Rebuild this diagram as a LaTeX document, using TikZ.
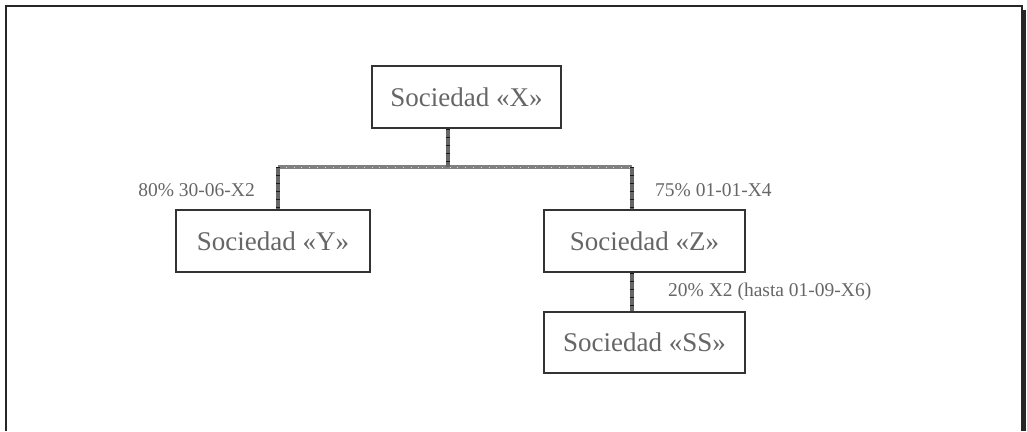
\documentclass[tikz,border=0pt]{standalone}
\usepackage{fontspec}
\setmainfont{Liberation Serif}
\begin{document}
\begin{tikzpicture}[x=1pt,y=-1pt,
  soc/.style={draw=black!80, line width=1.4pt, fill=white, inner sep=0pt, text=black!60, font=\fontsize{27}{30}\selectfont},
  lbl/.style={text=black!60, font=\fontsize{19.5}{22}\selectfont, inner sep=0pt},
  link/.style={draw=black!50, line width=4pt},
  linkdots/.style={draw=white!85!black, line width=0.8pt, dash pattern=on 0.8pt off 7pt},
  vlinkdots/.style={draw=black!90, line width=4pt, dash pattern=on 1pt off 7pt}]
\useasboundingbox (0,0) rectangle (1027,431);
% frame
\fill[black!85] (1022,10) rectangle (1026,431);
\draw[black!85, line width=1.4pt] (6,431) -- (6,6) -- (1022,6) -- (1022,431);
% nodes
\node[soc, minimum width=189pt, minimum height=62pt] (X) at (466.5,97) {Sociedad «X»};
\node[soc, minimum width=194pt, minimum height=62pt] (Y) at (273,241) {Sociedad «Y»};
\node[soc, minimum width=201pt, minimum height=62pt] (Z) at (644.5,241) {Sociedad «Z»};
\node[soc, minimum width=201pt, minimum height=61pt] (SS) at (644.5,342.5) {Sociedad «SS»};
\coordinate (J) at (448,167);
\coordinate (JL) at (278,167);
\coordinate (JR) at (632,167);
% connectors
\draw[link] (JL) -- (JR);
\draw[linkdots] (JL) -- (JR);
\draw[link, black!60] (X.south -| J) -- (J);
\draw[vlinkdots] (X.south -| J) -- (J);
\draw[link, black!60] (JL) -- (Y.north -| JL);
\draw[vlinkdots] (JL) -- (Y.north -| JL);
\draw[link, black!60] (JR) -- (Z.north -| JR);
\draw[vlinkdots] (JR) -- (Z.north -| JR);
\draw[link, black!60] (Z.south -| JR) -- (SS.north -| JR);
\draw[vlinkdots] (Z.south -| JR) -- (SS.north -| JR);
% labels
\node[lbl, anchor=east] (lY) at (255,190) {80\% 30-06-X2};
\node[lbl, anchor=west] (lZ) at (655,190) {75\% 01-01-X4};
\node[lbl, anchor=west] (lSS) at (668,292) {20\% X2 (hasta 01-09-X6)};
\end{tikzpicture}
\end{document}
